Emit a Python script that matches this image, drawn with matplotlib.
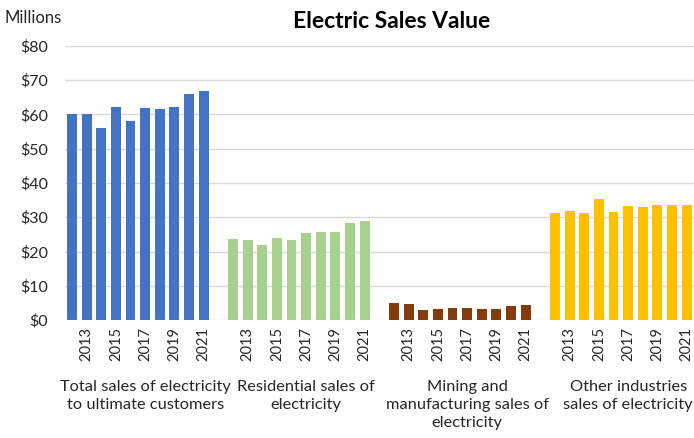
import numpy as np
import matplotlib
matplotlib.use("Agg")
import matplotlib.pyplot as plt
from matplotlib.transforms import blended_transform_factory

plt.rcParams['font.family'] = ['Lato', 'DejaVu Sans']

# Data (millions of dollars), years 2012-2021
years = list(range(2012, 2022))
groups = ["Total sales of electricity\nto ultimate customers",
          "Residential sales of\nelectricity",
          "Mining and\nmanufacturing sales of\nelectricity",
          "Other industries\nsales of electricity"]
total = [60.1, 60.2, 56.0, 62.1, 58.1, 61.9, 61.6, 62.3, 65.9, 66.8]
residential = [23.6, 23.4, 21.9, 23.9, 23.4, 25.4, 25.7, 25.7, 28.3, 28.9]
mining = [5.1, 4.8, 2.9, 3.2, 3.5, 3.5, 3.2, 3.2, 4.1, 4.4]
other = [31.2, 31.8, 31.2, 35.3, 31.5, 33.3, 33.0, 33.6, 33.6, 33.6]
series = [total, residential, mining, other]
colors = ['#4472C4', '#A9D18E', '#843C0C', '#FFC000']

fig = plt.figure(figsize=(6.94, 4.38), dpi=100)
ax = fig.add_axes([64.65 / 694, 1 - 320 / 438, 1 - 64.65 / 694, 274 / 438])

tick_pos = []
tick_lab = []
for g, vals in enumerate(series):
    x = np.arange(len(years)) + g * 11
    ax.bar(x, vals, width=0.68, color=colors[g], zorder=3)
    for xi, yr in zip(x, years):
        if yr % 2 == 1:
            tick_pos.append(xi)
            tick_lab.append(str(yr))

ax.set_xlim(-0.5, 42.5)
ax.set_ylim(0, 80)
ax.set_yticks(range(0, 81, 10))
ax.set_yticklabels([f"${v}" for v in range(0, 81, 10)], fontsize=11.5, color='#262626')
ax.set_xticks(tick_pos)
ax.set_xticklabels(tick_lab, rotation=90, fontsize=10.5, color='#262626')
ax.tick_params(axis='both', length=0)
ax.tick_params(axis='x', pad=5)
ax.tick_params(axis='y', pad=12)
ax.grid(axis='y', color='#D9D9D9', linewidth=1, zorder=0)
for s in ['top', 'right', 'left', 'bottom']:
    ax.spines[s].set_visible(False)

# group labels below the year ticks
tr = blended_transform_factory(ax.transData, fig.transFigure)
for g, label in enumerate(groups):
    fig.text(g * 11 + 5, 1 - 380 / 438, label, transform=tr, ha='center', va='top',
             fontsize=11.8, color='#262626', linespacing=1.38)

fig.text(392 / 694, 1 - 22 / 438, "Electric Sales Value", ha='center', va='center',
         fontsize=16.5, fontweight='bold')
fig.text(5 / 694, 1 - 18 / 438, "Millions", ha='left', va='center', fontsize=12,
         color='#262626')

fig.savefig("out.png", dpi=100)
